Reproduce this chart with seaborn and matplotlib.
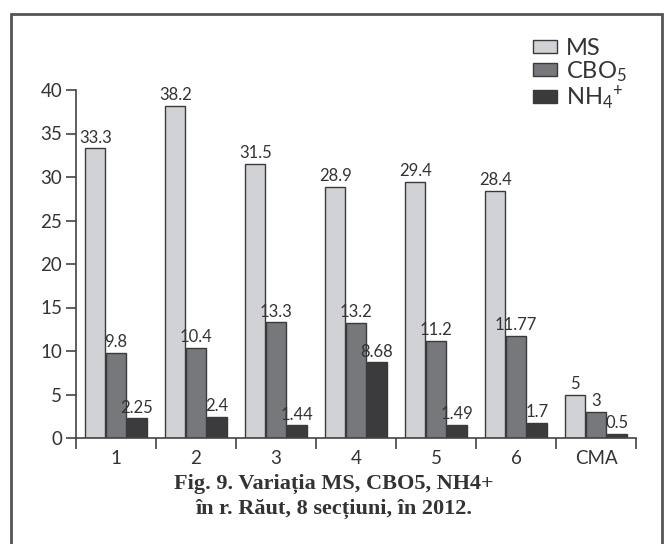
import matplotlib
matplotlib.use("Agg")
import matplotlib.pyplot as plt
import seaborn as sns
import pandas as pd
import numpy as np
from matplotlib.patches import Rectangle

categories = ['1', '2', '3', '4', '5', '6', 'CMA']
ms = [33.3, 38.2, 31.5, 28.9, 29.4, 28.4, 5]
cbo5 = [9.8, 10.4, 13.3, 13.2, 11.2, 11.77, 3]
nh4 = [2.25, 2.4, 1.44, 8.68, 1.49, 1.7, 0.5]
ms_lbl = ['33.3', '38.2', '31.5', '28.9', '29.4', '28.4', '5']
cbo5_lbl = ['9.8', '10.4', '13.3', '13.2', '11.2', '11.77', '3']
nh4_lbl = ['2.25', '2.4', '1.44', '8.68', '1.49', '1.7', '0.5']
series = ['MS', 'CBO5', 'NH4']
legend_labels = ['MS', r'CBO$_\mathregular{5}$', r'NH$_\mathregular{4}{}^\mathregular{+}$']
colors = ['#d1d2d6', '#77787c', '#3b3b3d']

sns.set_theme(style='white')
plt.rcParams['font.family'] = ['Lato', 'DejaVu Sans']
plt.rcParams['mathtext.fontset'] = 'custom'
plt.rcParams['mathtext.rm'] = 'Lato'
plt.rcParams['mathtext.it'] = 'Lato:italic'
plt.rcParams['mathtext.bf'] = 'Lato:bold'

df = pd.DataFrame({
    'cat': categories * 3,
    'series': sum([[s] * len(categories) for s in series], []),
    'value': ms + cbo5 + nh4,
})

fig = plt.figure(figsize=(6.67, 5.44), dpi=100)
W, H = 667, 544
ax = fig.add_axes([76 / W, 1 - 438 / H, (636 - 76) / W, (438 - 90) / H])

sns.barplot(data=df, x='cat', y='value', hue='series', hue_order=series,
            palette=colors, width=0.78, gap=0.06, edgecolor='#3a3a3a',
            linewidth=1.0, saturation=1, ax=ax, legend=False)

label_sets = [ms_lbl, cbo5_lbl, nh4_lbl]
for cont, labs in zip(ax.containers, label_sets):
    ax.bar_label(cont, labels=labs, padding=2, fontsize=12, color='#333333')

ax.set_xlim(-0.5, len(categories) - 0.5)
ax.set_ylim(0, 40)
ax.set_yticks(np.arange(0, 41, 5))
ax.set_xticks(np.arange(-0.5, len(categories), 1))
ax.set_xticklabels([])
ax.set_xticks(np.arange(len(categories)), minor=True)
ax.set_xticklabels(categories, minor=True)
ax.tick_params(axis='x', which='major', length=8, width=1.2, color='#444444', direction='out', bottom=True)
ax.tick_params(axis='x', which='minor', length=0, labelsize=13.5, labelcolor='#333333', pad=9)
ax.tick_params(axis='y', length=7, width=1.2, color='#444444', direction='out', left=True,
               labelsize=13.5, labelcolor='#333333', pad=3)
ax.set_xlabel('')
ax.set_ylabel('')
for s in ['top', 'right']:
    ax.spines[s].set_visible(False)
for s in ['left', 'bottom']:
    ax.spines[s].set_color('#444444')
    ax.spines[s].set_linewidth(1.2)

handles = [Rectangle((0, 0), 1, 1, facecolor=c, edgecolor='#3a3a3a', linewidth=1.0) for c in colors]
fig.legend(handles, legend_labels, loc='upper left', bbox_to_anchor=(533 / W, 1 - 38 / H),
           frameon=False, fontsize=17, handlelength=1.0, handleheight=0.42, borderpad=0,
           borderaxespad=0, handletextpad=0.4, labelspacing=0.0, labelcolor='#333333')

fig.text(0.5, 1 - 484 / H, 'Fig. 9. Variația MS, CBO5, NH4+', ha='center', va='center',
         fontsize=16, fontweight='bold', family=['Liberation Serif', 'DejaVu Serif'], color='#333333')
fig.text(0.5, 1 - 509 / H, 'în r. Răut, 8 secțiuni, în 2012.', ha='center', va='center',
         fontsize=16, fontweight='bold', family=['Liberation Serif', 'DejaVu Serif'], color='#333333')

border = Rectangle((11 / W, -0.02), (662 - 11) / W, 1 - 14 / H + 0.02, transform=fig.transFigure,
                   fill=False, edgecolor='#555555', linewidth=2, clip_on=False)
fig.patches.append(border)

fig.savefig('out.png', dpi=100)
